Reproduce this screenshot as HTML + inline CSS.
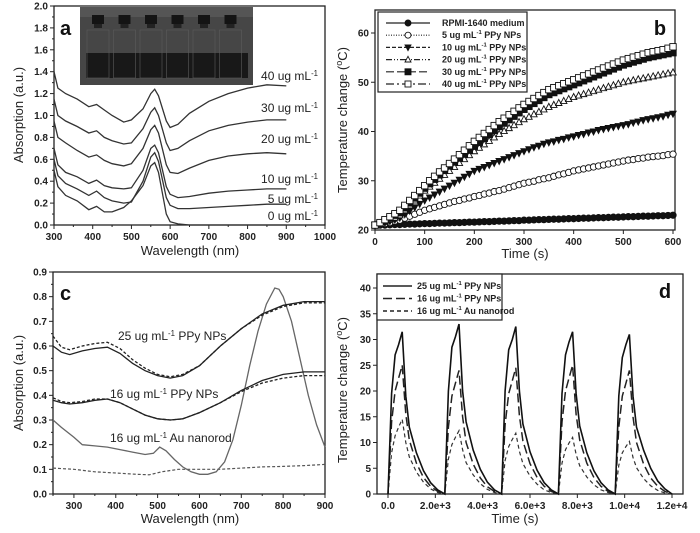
<!DOCTYPE html>
<html><head><meta charset="utf-8"><style>
html,body{margin:0;padding:0;background:#fff;}
svg{display:block;font-family:"Liberation Sans",Arial,sans-serif;}
.tk{font-size:10px;font-weight:bold;fill:#222;}
.tt{font-size:13px;fill:#222;}
.lg{font-size:9px;font-weight:bold;fill:#222;}
.pl{font-size:20px;font-weight:bold;fill:#111;}
.an{font-size:12px;fill:#222;}
</style></head><body>
<svg id="fig" width="700" height="533" viewBox="0 0 700 533"></svg>
<script>
// ---------- Panel a data ----------
const aWl = [300,310,330,360,390,410,430,450,480,500,530,550,560,570,590,600,620,650,700,750,800,850,900];
const a40 = [1.40,1.25,1.20,1.15,1.08,1.10,1.05,1.00,0.94,0.96,1.06,1.20,1.24,1.18,0.95,0.89,0.92,1.02,1.13,1.20,1.25,1.28,1.27];
const a30 = [1.15,1.00,0.95,0.90,0.84,0.86,0.80,0.77,0.74,0.75,0.88,1.03,1.07,1.00,0.75,0.68,0.70,0.77,0.86,0.91,0.94,0.96,0.96];
const a20 = [0.95,0.80,0.75,0.68,0.62,0.64,0.59,0.56,0.54,0.56,0.70,0.87,0.91,0.84,0.55,0.48,0.47,0.52,0.59,0.63,0.65,0.66,0.65];
const a10 = [0.70,0.55,0.48,0.44,0.38,0.41,0.36,0.34,0.33,0.34,0.50,0.70,0.73,0.66,0.35,0.28,0.25,0.26,0.29,0.31,0.32,0.33,0.33];
const a5  = [0.60,0.45,0.38,0.33,0.27,0.31,0.25,0.22,0.20,0.21,0.40,0.62,0.66,0.58,0.25,0.18,0.15,0.15,0.16,0.17,0.18,0.19,0.19];
const a0  = [0.50,0.35,0.27,0.22,0.14,0.17,0.12,0.12,0.16,0.22,0.36,0.54,0.57,0.48,0.10,0.03,0.01,0.00,0.00,0.00,0.00,0.00,0.00];
const aLabels = ["40 ug mL","30 ug mL","20 ug mL","10 ug mL","5 ug mL","0 ug mL"];
const aXTicks = [300,400,500,600,700,800,900,1000];
const aYTicks = [0,0.2,0.4,0.6,0.8,1.0,1.2,1.4,1.6,1.8,2.0];
// ---------- Panel b data ----------
const bTime = [0,10,20,30,40,50,60,70,80,90,100,110,120,130,140,150,160,170,180,190,200,210,220,230,240,250,260,270,280,290,300,310,320,330,340,350,360,370,380,390,400,410,420,430,440,450,460,470,480,490,500,510,520,530,540,550,560,570,580,590,600];
const bRPMI = [21,21,21,21.05,21.1,21.1,21.15,21.2,21.2,21.25,21.3,21.3,21.35,21.4,21.4,21.45,21.5,21.5,21.55,21.6,21.6,21.65,21.7,21.7,21.75,21.8,21.8,21.85,21.9,21.9,22,22,22.05,22.1,22.1,22.15,22.2,22.2,22.25,22.3,22.3,22.35,22.4,22.4,22.45,22.5,22.5,22.55,22.6,22.6,22.65,22.7,22.7,22.75,22.8,22.8,22.85,22.9,22.9,22.95,23];
const b5 = [21,21.1,21.3,21.5,21.8,22,22.4,22.8,23.2,23.6,24,24.3,24.6,24.9,25.2,25.5,25.8,26,26.3,26.5,26.8,27,27.3,27.5,27.8,28,28.3,28.6,28.9,29.2,29.5,29.7,29.9,30.2,30.4,30.6,30.9,31.2,31.4,31.7,32,32.2,32.4,32.6,32.8,33,33.2,33.4,33.6,33.8,34,34.2,34.3,34.5,34.6,34.8,34.9,35,35.1,35.3,35.4];
const b10 = [21,21.2,21.5,21.8,22.1,22.5,23.2,23.9,24.6,25.3,26,26.6,27.2,27.8,28.4,29,29.6,30.2,30.8,31.4,32,32.4,32.8,33.2,33.6,34,34.4,34.8,35.2,35.6,36,36.4,36.8,37.1,37.5,37.8,38,38.3,38.5,38.8,39,39.3,39.5,39.8,40,40.3,40.5,40.7,40.9,41.1,41.3,41.5,41.8,42,42.3,42.5,42.7,42.9,43.1,43.4,43.6];
const b20 = [21,21.3,21.7,22.1,22.5,23,24,25,26,27,28,28.8,29.6,30.4,31.2,32,32.8,33.6,34.4,35.2,36,36.7,37.4,38.1,38.8,39.5,40.1,40.7,41.3,41.9,42.5,43,43.5,44,44.5,45,45.4,45.8,46.2,46.6,47,47.3,47.6,47.9,48.2,48.5,48.8,49.1,49.4,49.7,50,50.2,50.4,50.6,50.8,51,51.2,51.4,51.6,51.8,52];
const b30 = [21,21.3,21.8,22.4,23,23.5,24.5,25.5,26.5,27.5,28.5,29.4,30.3,31.2,32.1,33,33.8,34.6,35.4,36.2,37,37.8,38.6,39.4,40.2,41,41.7,42.4,43.1,43.8,44.5,45.1,45.7,46.3,46.9,47.5,47.9,48.3,48.7,49.1,49.5,49.9,50.3,50.7,51.1,51.5,51.9,52.3,52.7,53.1,53.5,53.8,54.1,54.4,54.7,55,55.2,55.4,55.6,55.8,56];
const b40 = [21,21.5,22.1,22.7,23.3,24,25,26,27,28,29,30,30.9,31.8,32.6,33.5,34.4,35.3,36.2,37.1,38,38.8,39.6,40.4,41.2,42,42.7,43.4,44.1,44.8,45.5,46.1,46.7,47.3,47.9,48.5,48.9,49.3,49.7,50.1,50.5,50.9,51.3,51.7,52.1,52.5,52.9,53.3,53.7,54.1,54.5,54.8,55.1,55.4,55.7,56,56.2,56.4,56.6,56.9,57.2];
const bLegend = ["RPMI-1640 medium","5 ug mL","10 ug mL","20 ug mL","30 ug mL","40 ug mL"];
const bXTicks = [0,100,200,300,400,500,600];
const bYTicks = [20,30,40,50,60];
// ---------- Panel c data ----------
const cWl = [250,270,290,320,350,380,410,440,470,500,530,560,600,650,700,750,800,850,900];
const c25s = [0.60,0.575,0.565,0.58,0.59,0.595,0.57,0.53,0.50,0.48,0.47,0.48,0.52,0.60,0.67,0.73,0.765,0.78,0.78];
const c25d = [0.64,0.595,0.585,0.60,0.61,0.615,0.59,0.545,0.51,0.485,0.475,0.485,0.52,0.60,0.67,0.725,0.76,0.775,0.775];
const c16s = [0.38,0.37,0.365,0.37,0.38,0.385,0.37,0.345,0.32,0.305,0.30,0.305,0.33,0.37,0.42,0.46,0.485,0.495,0.495];
const c16d = [0.39,0.375,0.37,0.375,0.385,0.385,0.37,0.345,0.32,0.305,0.30,0.305,0.33,0.37,0.415,0.45,0.47,0.48,0.48];
const cAuWl = [250,270,300,320,350,380,410,440,470,490,505,520,540,560,580,600,620,640,660,680,700,720,740,760,780,790,800,820,840,860,880,900];
const cAuS = [0.30,0.27,0.23,0.20,0.195,0.19,0.18,0.17,0.16,0.165,0.19,0.175,0.14,0.11,0.09,0.08,0.08,0.09,0.13,0.22,0.36,0.52,0.66,0.77,0.835,0.83,0.80,0.70,0.55,0.40,0.28,0.19];
const cAuDWl = [250,300,350,400,450,480,510,550,600,650,700,750,800,850,900];
const cAuD = [0.105,0.10,0.09,0.085,0.08,0.078,0.09,0.10,0.10,0.10,0.105,0.11,0.112,0.115,0.12];
const cXTicks = [300,400,500,600,700,800,900];
const cYTicks = [0,0.1,0.2,0.3,0.4,0.5,0.6,0.7,0.8,0.9];
// ---------- Panel d data ----------
const dTime = [0,150,300,450,600,750,900,1200,1500,1800,2100,
 2400,2550,2700,2850,3000,3150,3300,3600,3900,4200,4500,
 4800,4950,5100,5250,5400,5550,5700,6000,6300,6600,6900,
 7200,7350,7500,7650,7800,7950,8100,8400,8700,9000,9300,
 9600,9750,9900,10050,10200,10350,10500,10800,11100,11400,11700,12000];
const d25 = [0,19.5,27,29,31.5,19,13,8,4.5,2.2,0.8,
 0,20,28.5,30.5,33,20,14,8.5,4.8,2.3,0.8,
 0,20,28,30,32.5,20,13.6,8.2,4.6,2.2,0.8,
 0,19.5,27,29.5,31.5,19.5,13.2,8,4.5,2.2,0.8,
 0,19,26.5,29,31,19,13,8.5,5,2.5,1,0];
const d16 = [0,14,20,22.5,25,15.5,10.5,6,3.2,1.5,0.5,
 0,13,19,21.5,24,15,10,5.8,3.1,1.4,0.5,
 0,13.5,19.5,22,24.5,15.2,10.3,5.9,3.2,1.5,0.5,
 0,14,20,22.5,25,15.5,10.5,6,3.2,1.5,0.5,
 0,13,19,21.5,24,15,10,5.8,3.1,1.5,0.5,0];
const dAu = [0,8,11.3,13,14.5,10,7.2,4.3,2.3,1,0.3,
 0,6.8,9.6,11,12.3,8.6,6.1,3.7,2,0.9,0.3,
 0,6.5,9.2,10.6,11.8,8.3,5.9,3.5,1.9,0.8,0.3,
 0,6,8.6,9.9,11,7.7,5.5,3.3,1.8,0.8,0.3,
 0,5.6,8,9.2,10.2,7.1,5.1,3,1.6,0.7,0.2,0];
const dLegend = ["25 ug mL","16 ug mL","16 ug mL"];
const dXTicks = [0,2000,4000,6000,8000,10000,12000];
const dXLabels = ["0.0","2.0e+3","4.0e+3","6.0e+3","8.0e+3","1.0e+4","1.2e+4"];
const dYTicks = [0,5,10,15,20,25,30,35,40];

const NS="http://www.w3.org/2000/svg";
const svg=document.getElementById('fig');
function mk(tag,attrs,parent){const e=document.createElementNS(NS,tag);for(const k in attrs)e.setAttribute(k,attrs[k]);(parent||svg).appendChild(e);return e;}
function lin(d0,d1,r0,r1){return v=>r0+(v-d0)/(d1-d0)*(r1-r0);}
function txt(x,y,s,cls,anchor,parent,name){const t=mk('text',{x:x,y:y,class:cls,'text-anchor':anchor||'middle'},parent);t.textContent=s;return t;}
function supText(x,y,main,sup,tail,cls,anchor,parent,name){
 const t=mk('text',{x:x,y:y,class:cls,'text-anchor':anchor||'start'},parent);
 
 
 const a=mk('tspan',{},t);a.textContent=main;
 const b=mk('tspan',{dy:-4,'font-size':'0.65em'},t);b.textContent=sup;
 if(tail){const c=mk('tspan',{dy:4},t);c.textContent=tail;}
 return t;}
function path(xs,ys,sx,sy,attrs,parent,name){
 let d='';for(let i=0;i<xs.length;i++){d+=(i?'L':'M')+sx(xs[i]).toFixed(1)+','+sy(ys[i]).toFixed(1);}
 const p=mk('path',Object.assign({d:d,fill:'none'},attrs),parent);
 
 
 return p;}
function frame(g,x0,y0,x1,y1){const r=mk('rect',{x:x0,y:y0,width:x1-x0,height:y1-y0,fill:'none',stroke:'#222','stroke-width':1.3},g);}
function axes(g,sx,sy,x0,y0,x1,y1,xt,yt,xl,yl,yfmt,minorX,minorY){
 const ax=mk('g',{},g);
 xt.forEach((v,i)=>{const x=sx(v);mk('line',{x1:x,x2:x,y1:y1,y2:y1+4,stroke:'#222'},ax);txt(x,y1+15,xl?xl[i]:String(v),'tk','middle',ax,'x-tick-label');});
 (minorX||[]).forEach(v=>{const x=sx(v);mk('line',{x1:x,x2:x,y1:y1,y2:y1+2,stroke:'#222'},ax);});
 const ay=mk('g',{},g);
 yt.forEach(v=>{const y=sy(v);mk('line',{x1:x0-4,x2:x0,y1:y,y2:y,stroke:'#222'},ay);txt(x0-6,y+3.5,yfmt(v),'tk','end',ay,'y-tick-label');});
 (minorY||[]).forEach(v=>{const y=sy(v);mk('line',{x1:x0-2,x2:x0,y1:y,y2:y,stroke:'#222'},ay);});
}
function rotTitle(x,y,parts,g,name){const t=mk('text',{x:0,y:0,class:'tt','text-anchor':'middle',transform:`translate(${x},${y}) rotate(-90)`},g);
 parts.forEach(p=>{const s=mk('tspan',p.sup?{dy:-5,'font-size':'9px'}:(p.back?{dy:5}:{}),t);s.textContent=p.t;});}

// ================= Panel a =================
(function(){
 const g=mk('g',{});
 const x0=54,x1=325,y0=6,y1=225;
 const sx=lin(300,1000,x0,x1),sy=lin(0,2.0,y1,y0);
 const ph=mk('g',{},g);
 mk('rect',{x:80,y:7,width:173,height:78,fill:'#464646'},ph);
 mk('rect',{x:80,y:7,width:173,height:10,fill:'#555'},ph);
 mk('rect',{x:86,y:53,width:162,height:25,fill:'#181818'},ph);
 for(let i=0;i<6;i++){const cx=98+i*26.5;mk('rect',{x:cx-6,y:15,width:12,height:9,fill:'#141414'},ph);mk('rect',{x:cx-4,y:24,width:8,height:4,fill:'#222'},ph);mk('rect',{x:cx-11,y:30,width:22,height:48,fill:'none',stroke:'#5c5c5c','stroke-width':0.6},ph);}
 frame(g,x0,y0,x1,y1);
 const minX=[350,450,550,650,750,850,950],minY=[0.1,0.3,0.5,0.7,0.9,1.1,1.3,1.5,1.7,1.9];
 axes(g,sx,sy,x0,y0,x1,y1,aXTicks,aYTicks,null,null,v=>v.toFixed(1),minX,minY);
 const series=[a40,a30,a20,a10,a5,a0];
 const names=['curve-40ug','curve-30ug','curve-20ug','curve-10ug','curve-5ug','curve-0ug'];
 series.forEach((s,i)=>path(aWl,s,sx,sy,{stroke:'#333','stroke-width':1.3},g,names[i]));
 const ly=[80,112,143,183,203,220];
 aLabels.forEach((l,i)=>supText(318,ly[i],l,'-1','','an','end',g,'curve-label'));
 txt(60,35,'a','pl','start',g,'panel-label-a');
 txt(190,255,'Wavelength (nm)','tt','middle',g,'x-axis-title');
 rotTitle(23,115,[{t:'Absorption (a.u.)'}],g,'y-axis-title');
})();

// ================= Panel b =================
(function(){
 const g=mk('g',{});
 const x0=375,x1=675,y0=10,y1=230;
 const sx=lin(0,600,375,673),sy=lin(20,60,230,33);
 frame(g,x0,y0,x1,y1);
 axes(g,sx,sy,x0,y0,x1,y1,bXTicks,bYTicks,null,null,v=>String(v));
 const series=[bRPMI,b5,b10,b20,b30,b40];
 const dashes=['none','1,1.5','4,2','6,2,1,2,1,2','8,3','8,3,2,3'];
 const marks=['circleF','circleO','triF','triO','sqF','sqO'];
 const names=['rpmi','5ug','10ug','20ug','30ug','40ug'];
 function marker(kind,x,y,p,sz){
  let e;const s=sz||3;
  if(kind.startsWith('circle'))e=mk('circle',{cx:x,cy:y,r:s},p);
  else if(kind.startsWith('tri')){e=kind==='triF'?mk('polygon',{points:`${x-s},${y-s*0.8} ${x+s},${y-s*0.8} ${x},${y+s*1.1}`},p):mk('polygon',{points:`${x-s},${y+s*0.8} ${x+s},${y+s*0.8} ${x},${y-s*1.1}`},p);}
  else e=mk('rect',{x:x-s,y:y-s,width:2*s,height:2*s},p);
  const filled=kind.endsWith('F');
  e.setAttribute('fill',filled?'#111':'#fff');e.setAttribute('stroke','#111');e.setAttribute('stroke-width',0.9);
  return e;}
 series.forEach((s,i)=>{
  const sg=mk('g',{},g);
  path(bTime,s,sx,sy,{stroke:'#333','stroke-width':1,'stroke-dasharray':dashes[i]},sg,'line-'+names[i]);
  bTime.forEach((t,j)=>{const m=marker(marks[i],sx(t),sy(s[j]),sg,3.2);});
 });
 const lg=mk('g',{},g);
 mk('rect',{x:378,y:12,width:149,height:80,fill:'#fff',stroke:'#222','stroke-width':1.2},lg);
 bLegend.forEach((l,i)=>{const y=23+i*12.2;
  const e=mk('g',{},lg);
  mk('line',{x1:386,x2:430,y1:y,y2:y,stroke:'#222','stroke-width':1.2,'stroke-dasharray':dashes[i]},e);
  marker(marks[i],408,y,e,3);
  if(i===0)txt(442,y+3,l,'lg','start',e,'legend-label');
  else supText(442,y+3,l,'-1',' PPy NPs','lg','start',e,'legend-label');});
 txt(660,35,'b','pl','middle',g,'panel-label-b');
 txt(525,258,'Time (s)','tt','middle',g,'x-axis-title');
 rotTitle(347,120,[{t:'Temperature change ('},{t:'o',sup:true},{t:'C)',back:true}],g,'y-axis-title');
})();

// ================= Panel c =================
(function(){
 const g=mk('g',{});
 const x0=53,x1=325,y0=272,y1=494;
 const sx=lin(250,900,x0,x1),sy=lin(0,0.9,y1,y0);
 frame(g,x0,y0,x1,y1);
 const minX=[250,350,450,550,650,750,850],minY=[0.05,0.15,0.25,0.35,0.45,0.55,0.65,0.75,0.85];
 axes(g,sx,sy,x0,y0,x1,y1,cXTicks,cYTicks,null,null,v=>v.toFixed(1),minX,minY);
 path(cAuDWl,cAuD,sx,sy,{stroke:'#555','stroke-width':1.2,'stroke-dasharray':'3,2'},g,'au-nanorod-after');
 path(cAuWl,cAuS,sx,sy,{stroke:'#666','stroke-width':1.3},g,'au-nanorod-before');
 path(cWl,c16d,sx,sy,{stroke:'#222','stroke-width':1.3,'stroke-dasharray':'3,2'},g,'ppy-16ug-after');
 path(cWl,c16s,sx,sy,{stroke:'#222','stroke-width':1.3},g,'ppy-16ug-before');
 path(cWl,c25d,sx,sy,{stroke:'#222','stroke-width':1.3,'stroke-dasharray':'3,2'},g,'ppy-25ug-after');
 path(cWl,c25s,sx,sy,{stroke:'#222','stroke-width':1.3},g,'ppy-25ug-before');
 supText(118,340,'25 ug mL','-1',' PPy NPs','an','start',g,'curve-label');
 supText(110,398,'16 ug mL','-1',' PPy NPs','an','start',g,'curve-label');
 supText(110,442,'16 ug mL','-1',' Au nanorod','an','start',g,'curve-label');
 txt(60,300,'c','pl','start',g,'panel-label-c');
 txt(190,523,'Wavelength (nm)','tt','middle',g,'x-axis-title');
 rotTitle(23,383,[{t:'Absorption (a.u.)'}],g,'y-axis-title');
})();

// ================= Panel d =================
(function(){
 const g=mk('g',{});
 const x0=377,x1=683,y0=274,y1=494;
 const sx=lin(0,12000,388,672),sy=lin(0,40,494,288);
 frame(g,x0,y0,x1,y1);
 axes(g,sx,sy,x0,y0,x1,y1,dXTicks,dYTicks,dXLabels,null,v=>String(v));
 const dashes=['none','9,4','4,3'];
 path(dTime,dAu,sx,sy,{stroke:'#333','stroke-width':1.2,'stroke-dasharray':dashes[2]},g,'line-au-nanorod');
 path(dTime,d16,sx,sy,{stroke:'#222','stroke-width':1.5,'stroke-dasharray':dashes[1]},g,'line-ppy-16ug');
 path(dTime,d25,sx,sy,{stroke:'#111','stroke-width':1.6},g,'line-ppy-25ug');
 const lg=mk('g',{},g);
 mk('rect',{x:377,y:274,width:125,height:46,fill:'#fff',stroke:'#222','stroke-width':1.2},lg);
 const tails=[' PPy NPs',' PPy NPs',' Au nanorod'];
 dLegend.forEach((l,i)=>{const y=286+i*12.5;
  const e=mk('g',{},lg);
  mk('line',{x1:383,x2:412,y1:y,y2:y,stroke:'#222','stroke-width':1.5,'stroke-dasharray':dashes[i]},e);
  supText(417,y+3,l,'-1',tails[i],'lg','start',e,'legend-label');});
 txt(665,298,'d','pl','middle',g,'panel-label-d');
 txt(515,523,'Time (s)','tt','middle',g,'x-axis-title');
 rotTitle(347,390,[{t:'Temperature change ('},{t:'o',sup:true},{t:'C)',back:true}],g,'y-axis-title');
})();
</script>
</body></html>
